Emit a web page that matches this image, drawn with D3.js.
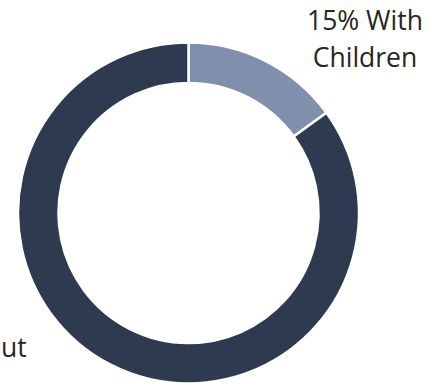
<!DOCTYPE html>
<html>
<head>
<meta charset="utf-8">
<script src="https://cdn.jsdelivr.net/npm/d3@7"></script>
<style>
html,body{margin:0;padding:0;background:#fff;}
svg{display:block;}
</style>
</head>
<body>
<script>
const categories = ["With Children", "Without Children"];
const values = [15, 85];
const labelLines = [["15% With", "Children"], ["85% Without", "Children"]];
const colors = ["#8090ac", "#2e3a50"];

const W = 434, H = 391;
const cx = 188.5, cy = 213, outerR = 170.5, innerR = 130;

const svg = d3.select("body").append("svg").attr("width", W).attr("height", H);
const g = svg.append("g").attr("transform", `translate(${cx},${cy})`);

const pie = d3.pie().sort(null).value(d => d);
const arc = d3.arc().innerRadius(innerR).outerRadius(outerR);
const color = d3.scaleOrdinal().domain(categories).range(colors);

g.selectAll("path").data(pie(values)).join("path")
  .attr("d", arc)
  .attr("fill", (d, i) => color(categories[i]))
  .attr("stroke", "#fff")
  .attr("stroke-width", 2.5);

const labelPos = [[365, 30], [-52, 357]];
labelLines.forEach((lines, i) => {
  const t = svg.append("text")
    .attr("text-anchor", "middle")
    .attr("font-family", "'Open Sans', sans-serif")
    .attr("font-size", 26.5)
    .attr("fill", "#262626");
  lines.forEach((ln, j) => {
    t.append("tspan").attr("x", labelPos[i][0]).attr("y", labelPos[i][1] + j * 37).text(ln);
  });
});
</script>
</body>
</html>
